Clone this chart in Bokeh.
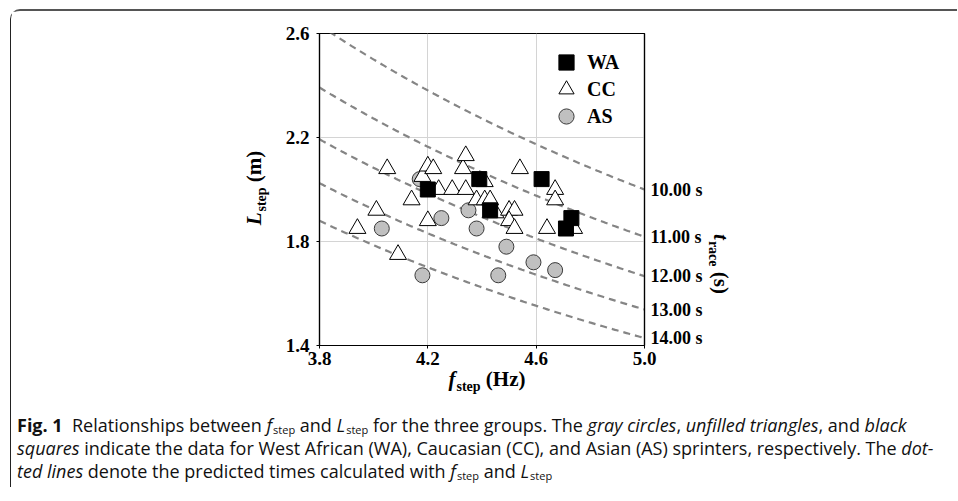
import numpy as np
from bokeh.plotting import figure
from bokeh.models import (LinearAxis, FixedTicker, Legend, LegendItem, Div,
                          Range1d, PrintfTickFormatter)
from bokeh.layouts import column
from bokeh.embed import file_html
from bokeh.resources import INLINE

# ---------------- data ----------------
wa_f = [4.20, 4.39, 4.43, 4.62, 4.73, 4.71]
wa_L = [2.00, 2.04, 1.92, 2.04, 1.89, 1.85]

cc_f = [3.94, 4.01, 4.05, 4.09, 4.14, 4.18, 4.20, 4.22, 4.20, 4.24, 4.29, 4.33, 4.34, 4.34,
        4.38, 4.41, 4.43, 4.45, 4.50, 4.52, 4.50, 4.52, 4.54, 4.64, 4.67, 4.67, 4.74, 4.41]
cc_L = [1.85, 1.92, 2.08, 1.75, 1.96, 2.05, 2.09, 2.08, 1.88, 2.00, 2.00, 2.08, 2.13, 2.00,
        1.96, 1.96, 1.96, 1.91, 1.92, 1.92, 1.88, 1.85, 2.08, 1.85, 2.00, 1.96, 1.85, 2.03]

as_f = [4.03, 4.17, 4.18, 4.25, 4.35, 4.38, 4.46, 4.49, 4.59, 4.67]
as_L = [1.85, 2.04, 1.67, 1.89, 1.92, 1.85, 1.67, 1.78, 1.72, 1.69]

race_times = [10.0, 11.0, 12.0, 13.0, 14.0]          # predicted 100 m times (s)
race_time_labels = ["10.00 s", "11.00 s", "12.00 s", "13.00 s", "14.00 s"]
race_distance = 100.0                                  # m

x_ticks = [3.8, 4.2, 4.6, 5.0]
y_ticks = [1.4, 1.8, 2.2, 2.6]
series_names = ["WA", "CC", "AS"]

# ---------------- figure ----------------
SERIF = "Liberation Serif"
W, H = 930, 382
p = figure(width=W, height=H, output_backend="svg", toolbar_location=None,
           x_range=Range1d(x_ticks[0], x_ticks[-1]), y_range=Range1d(y_ticks[0], y_ticks[-1]),
           min_border_left=308, min_border_right=297, min_border_top=22, min_border_bottom=48)
p.background_fill_color = "white"
p.border_fill_color = "white"
p.outline_line_color = "black"
p.outline_line_width = 1.2

for ax in (p.xaxis[0], p.yaxis[0]):
    ax.major_label_text_font = SERIF
    ax.major_label_text_font_style = "bold"
    ax.major_label_text_font_size = "19px"
    ax.major_label_text_color = "black"
    ax.axis_line_color = "black"
    ax.axis_line_width = 1.2
    ax.major_tick_line_color = "black"
    ax.major_tick_in = 0
    ax.major_tick_out = 3
    ax.minor_tick_line_color = None
    ax.formatter = PrintfTickFormatter(format="%.1f")
p.xaxis.ticker = FixedTicker(ticks=x_ticks)
p.yaxis.ticker = FixedTicker(ticks=y_ticks)
p.xaxis.major_label_standoff = 3
p.yaxis.major_label_standoff = 7

p.xgrid.ticker = FixedTicker(ticks=x_ticks)
p.ygrid.ticker = FixedTicker(ticks=y_ticks)
p.xgrid.grid_line_color = "#d4d4d4"
p.ygrid.grid_line_color = "#d4d4d4"

# right axis: predicted time labels at the right end of each curve
f_end = x_ticks[-1]
right_ticks = [race_distance / (t * f_end) for t in race_times]
rax = LinearAxis(ticker=FixedTicker(ticks=right_ticks),
                 major_label_overrides={tk: lab for tk, lab in zip(right_ticks, race_time_labels)})
rax.major_label_text_font = SERIF
rax.major_label_text_font_style = "bold"
rax.major_label_text_font_size = "18px"
rax.major_label_text_color = "black"
rax.axis_line_color = "black"
rax.axis_line_width = 1.2
rax.major_tick_in = 0
rax.major_tick_out = 0
rax.minor_tick_line_color = None
rax.major_label_standoff = 6
p.add_layout(rax, "right")

# predicted-time curves: L = d / (t * f)
f_curve = np.linspace(x_ticks[0], x_ticks[-1], 200)
for t in race_times:
    p.line(f_curve, race_distance / (t * f_curve), line_color="#858585", line_width=2.2,
           line_dash="7 5")

# data points
r_as = p.scatter(as_f, as_L, marker="circle", size=15, fill_color="#c0c0c0",
                 line_color="#3a3a3a", line_width=1)
r_cc = p.scatter(cc_f, cc_L, marker="triangle", size=17, fill_color="white",
                 line_color="black", line_width=1)
r_wa = p.scatter(wa_f, wa_L, marker="square", size=15, fill_color="black",
                 line_color="black", line_width=1)

# legend: one single-item legend per row so that rows sit close together
for name, rend, loc_y in zip(series_names, [r_wa, r_cc, r_as], [264, 237, 210]):
    lg = Legend(items=[LegendItem(label=name, renderers=[rend])],
                location=(228, loc_y), glyph_width=38, glyph_height=38, label_height=20,
                padding=0, margin=0, label_standoff=2,
                background_fill_alpha=0, border_line_color=None,
                label_text_font=SERIF, label_text_font_style="bold",
                label_text_font_size="20px", label_text_color="black")
    p.add_layout(lg, "center")

# ---------------- axis titles (HTML overlay, with subscripts) ----------------
OX, OY = 12, 11   # page position of the figure's top-left corner


def title_span(cx, cy, rot, inner):
    return ('<span style="position:absolute;left:%dpx;top:%dpx;'
            'transform:translate(-50%%,-50%%) rotate(%ddeg);white-space:nowrap;'
            'font-family:\'Liberation Serif\';font-weight:bold;font-size:21px;'
            'line-height:1;color:#000">%s</span>' % (cx - OX, cy - OY, rot, inner))


def tsub(s):
    return ('<span style="font-size:14px;vertical-align:-5px;margin-left:1px">%s</span>' % s)


overlay_html = ('<div style="position:relative;width:%dpx;height:%dpx;">' % (W, H) +
                title_span(257, 188, -90, '<i>L</i>' + tsub('step') + '&nbsp;(m)') +
                title_span(488, 381, 0, '<i>f</i>' + tsub('step') + '&nbsp;(Hz)') +
                title_span(719, 264, 90, '<i>t</i>' + tsub('race') + '&nbsp;(s)') +
                '</div>')
overlay = Div(text=overlay_html, width=W, height=H, margin=(-H, 0, 0, 0))

# ---------------- caption ----------------
sub = ('<sub style="font-size:11px;vertical-align:-2px;line-height:0;'
       'margin-left:1px">step</sub>')
cap_lines = [
    '<b>Fig. 1</b>&nbsp; Relationships between <i>f</i>' + sub + ' and <i>L</i>' + sub +
    ' for the three groups. The <i>gray circles</i>, <i>unfilled triangles</i>, and <i>black</i>',
    '<i>squares</i> indicate the data for West African (WA), Caucasian (CC), and Asian (AS) '
    'sprinters, respectively. The <i>dot-</i>',
    '<i>ted lines</i> denote the predicted times calculated with <i>f</i>' + sub +
    ' and <i>L</i>' + sub,
]
cap_html = ('<div style="font-family:\'Open Sans\';font-size:18px;line-height:23px;'
            'white-space:nowrap;color:#111;padding:21px 0 0 6px;">' +
            '<br>'.join(cap_lines) + '</div>')
caption = Div(text=cap_html, width=W, height=94, margin=(0, 0, 0, 0))

layout = column(p, overlay, caption,
                styles={"border-top": "2px solid #555", "border-left": "1px solid #222",
                        "border-top-left-radius": "10px", "margin-left": "10px",
                        "margin-top": "9px", "padding-right": "16px"})

with open("out.html", "w") as fh:
    fh.write(file_html(layout, INLINE))
